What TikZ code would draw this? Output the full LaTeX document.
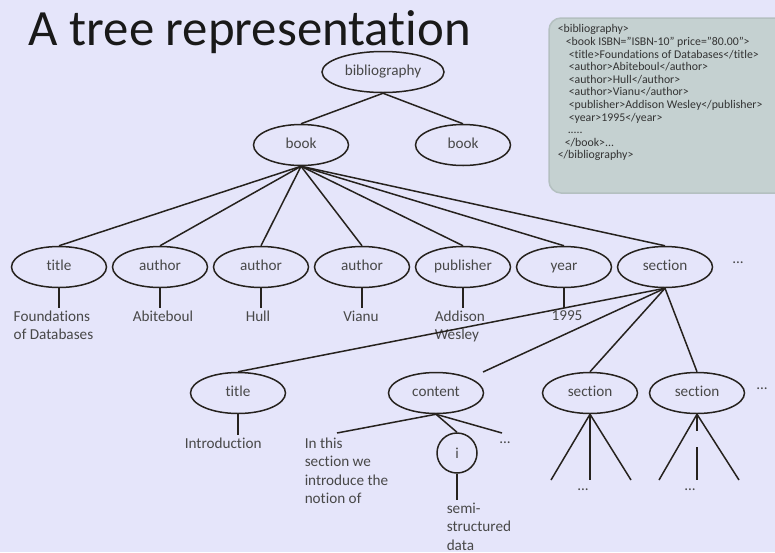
\documentclass[tikz,border=0pt]{standalone}
\usepackage{fontspec}
\setmainfont{Carlito}[Ligatures=NoCommon]
\usepackage{xcolor}
\usepackage{tikz}
\usetikzlibrary{shapes.geometric,calc}
\definecolor{slidebg}{RGB}{229,229,250}
\definecolor{xmlbox}{RGB}{197,209,209}
\definecolor{xmlrim}{RGB}{180,192,192}
\definecolor{inkline}{RGB}{38,34,30}
\definecolor{inktext}{RGB}{72,72,72}

\begin{document}
\begin{tikzpicture}[
  x=0.5pt, y=-0.5pt,
  line width=0.75pt,
  every node/.style={align=center},
  treefont/.style = {font=\fontsize{7.6}{9.2}\selectfont, text=inktext},
  elem/.style     = {treefont, draw=inkline, ellipse, inner sep=0pt,
                     text height=5.2pt, text depth=1.4pt,
                     minimum width=47.5pt, minimum height=20.5pt},
  rootnd/.style   = {elem, minimum width=61pt},
  attnd/.style    = {treefont, draw=inkline, circle, inner sep=0pt, minimum size=20pt},
  leaf/.style     = {treefont, align=left, inner sep=1pt},
  more/.style     = {treefont, inner sep=0pt},
  edge/.style     = {draw=inkline},
  xmlcode/.style  = {font=\fontsize{5.9}{6.3}\selectfont, text=black!80,
                     align=left, inner sep=0pt, anchor=north west}
]
\useasboundingbox (0,0) rectangle (775,552);
\fill[slidebg] (0,0) rectangle (775,552);

\node[font=\fontsize{25.4}{30}\selectfont, text=black!90, anchor=base west, inner sep=0pt]
  (heading) at (28,45) {A tree representation};

% xml source
\fill[xmlbox, draw=xmlrim, rounded corners=6pt] (549,18) rectangle (790,193);
\node[xmlcode] (xml) at (557,24) {%
  <bibliography>\\
  \hspace*{4pt}<book ISBN="ISBN-10" price="80.00">\\
  \hspace*{5.5pt}<title>Foundations of Databases</title>\\
  \hspace*{5.5pt}<author>Abiteboul</author>\\
  \hspace*{5.5pt}<author>Hull</author>\\
  \hspace*{5.5pt}<author>Vianu</author>\\
  \hspace*{5.5pt}<publisher>Addison Wesley</publisher>\\
  \hspace*{5.5pt}<year>1995</year>\\
  \hspace*{5pt}.....\\
  \hspace*{3.5pt}</book>...\\
  </bibliography>};

% tree
\node[rootnd] (bib)   at (383, 72) {bibliography};
\node[elem]   (book)  at (301,145) {book};
\node[elem]   (bookb) at (463,145) {book};

\node[elem] (title)  at ( 59,267) {title};
\node[elem] (auth1)  at (160,267) {author};
\node[elem] (auth2)  at (261,267) {author};
\node[elem] (auth3)  at (362,267) {author};
\node[elem] (publ)   at (463,267) {publisher};
\node[elem] (year)   at (564,267) {year};
\node[elem] (sect)   at (665,267) {section};
\node[more] (rowdots) at (738,263) {...};

\node[leaf, anchor=north west] (fdb)   at ( 11,308) {Foundations\\of Databases};
\node[leaf, anchor=north]      (abit)  at (163,308) {Abiteboul};
\node[leaf, anchor=north]      (hull)  at (258,308) {Hull};
\node[leaf, anchor=north]      (vianu) at (361,308) {Vianu};
\node[leaf, anchor=north west] (aw)    at (432,308) {Addison\\Wesley};
\node[leaf, anchor=north]      (yr)    at (567,308) {1995};

\node[elem] (stitle)  at (238,393) {title};
\node[elem] (content) at (436,393) {content};
\node[elem] (subs)    at (590,393) {section};
\node[elem] (subt)    at (697,393) {section};
\node[more] (subdots) at (762,389) {...};

\node[leaf, anchor=north west] (intro) at (182,435) {Introduction};
\node[leaf, anchor=north west] (para)  at (302,435) {In this\\section we\\introduce the\\notion of};
\node[attnd] (ichar) at (457,453) {i};
\node[more]  (cdots) at (505,443) {...};
\node[leaf, anchor=north west] (semi)  at (444,500) {semi-\\structured\\data};

\node[more] (sdotsa) at (583,490) {...};
\node[more] (sdotsb) at (690,490) {...};

\draw[edge] (bib.south) -- (book.north);
\draw[edge] (bib.south) -- (bookb.north);

\foreach \kid in {title,auth1,auth2,auth3,publ,year,sect}
  \draw[edge] (book.south) -- (\kid.north);

\draw[edge] (title.south) -- (title.south |- fdb.north);
\draw[edge] (auth1.south) -- (auth1.south |- abit.north);
\draw[edge] (auth2.south) -- (auth2.south |- hull.north);
\draw[edge] (auth3.south) -- (auth3.south |- vianu.north);
\draw[edge] (publ.south)  -- (publ.south |- aw.north);
\draw[edge] (year.south)  -- (year.south |- yr.north);

\coordinate (toContent) at (483,372);
\draw[edge] (sect.south) -- (stitle.north);
\draw[edge] (sect.south) -- (toContent);
\draw[edge] (sect.south) -- (subs.north);
\draw[edge] (sect.south) -- (subt.north);

\draw[edge] (stitle.south) -- (stitle.south |- intro.north);

\coordinate (toPara) at (337,433);
\coordinate (toMore) at (502,433);
\draw[edge] (content.south) -- (toPara);
\draw[edge] (content.south) -- (ichar.north);
\draw[edge] (content.south) -- (toMore);
\draw[edge] (ichar.south) -- (ichar.south |- semi.north);

\coordinate (s3a) at (551,480);
\coordinate (s3b) at (590,480);
\coordinate (s3c) at (631,480);
\coordinate (s4a) at (659,480);
\coordinate (s4b) at (697,480);
\coordinate (s4c) at (739,480);
\draw[edge] (subs.south) -- (s3a);
\draw[edge] (subs.south) -- (s3b);
\draw[edge] (subs.south) -- (s3c);
\draw[edge] (subt.south) -- (s4a);
\draw[edge, dash pattern=on 8.5pt off 8pt on 20pt] (subt.south) -- (s4b);
\draw[edge] (subt.south) -- (s4c);
\end{tikzpicture}
\end{document}
